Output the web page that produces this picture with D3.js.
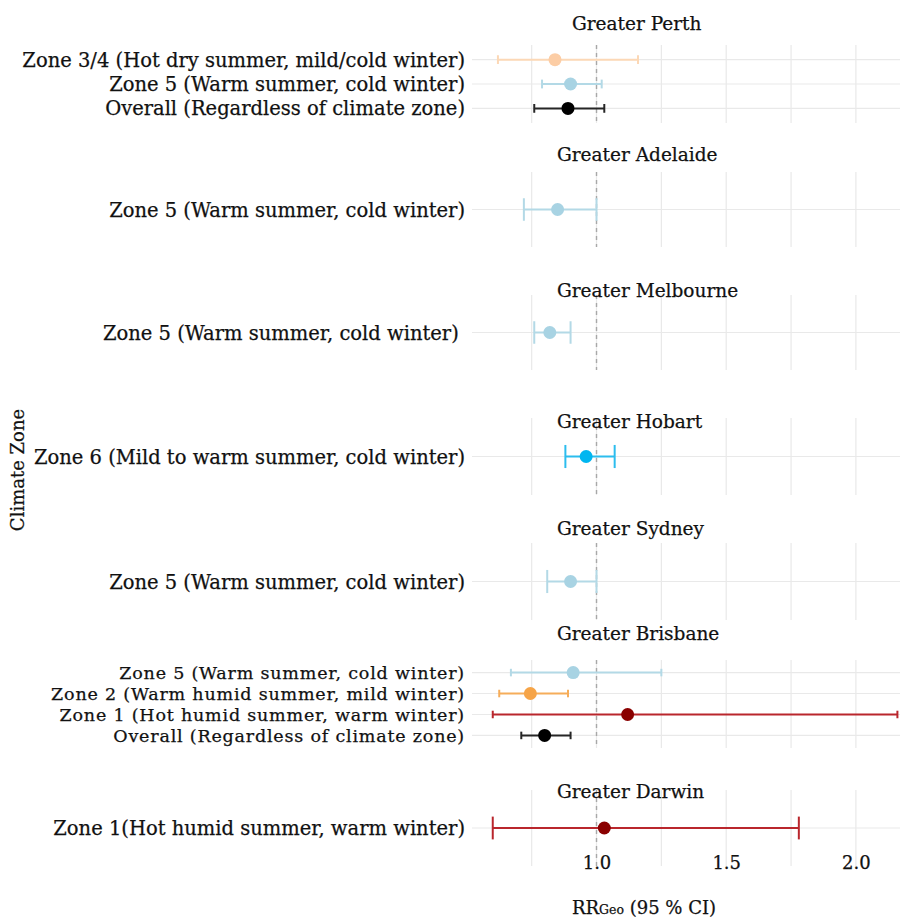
<!DOCTYPE html>
<html>
<head>
<meta charset="utf-8">
<script src="https://cdn.jsdelivr.net/npm/d3@7"></script>
<style>
  html, body { margin: 0; padding: 0; background: #ffffff; }
  svg { display: block; }
  text { font-family: "DejaVu Serif", "Liberation Serif", serif; fill: #111111;
         stroke: #111111; stroke-width: 0.25px; }
</style>
</head>
<body>
<svg id="chart" width="901" height="921"></svg>
<script>
// Cities shown as stacked panels, top to bottom
const cities = ["Greater Perth", "Greater Adelaide", "Greater Melbourne", "Greater Hobart",
                "Greater Sydney", "Greater Brisbane", "Greater Darwin"];

// One entry per estimate
const rowCity = ["Greater Perth", "Greater Perth", "Greater Perth",
                 "Greater Adelaide", "Greater Melbourne", "Greater Hobart", "Greater Sydney",
                 "Greater Brisbane", "Greater Brisbane", "Greater Brisbane", "Greater Brisbane",
                 "Greater Darwin"];
const rowLabel = ["Zone 3/4 (Hot dry summer, mild/cold winter)",
                  "Zone 5 (Warm summer, cold winter)",
                  "Overall (Regardless of climate zone)",
                  "Zone 5 (Warm summer, cold winter)",
                  "Zone 5 (Warm summer, cold winter) ",
                  "Zone 6 (Mild to warm summer, cold winter)",
                  "Zone 5 (Warm summer, cold winter)",
                  "Zone 5 (Warm summer, cold winter)",
                  "Zone 2 (Warm humid summer, mild winter)",
                  "Zone 1 (Hot humid summer, warm winter)",
                  "Overall (Regardless of climate zone)",
                  "Zone 1(Hot humid summer, warm winter)"];
const rowZone = ["Zone 3/4", "Zone 5", "Overall", "Zone 5", "Zone 5", "Zone 6", "Zone 5",
                 "Zone 5", "Zone 2", "Zone 1", "Overall", "Zone 1"];
const rrGeo   = [0.84, 0.90, 0.89, 0.85, 0.82, 0.96, 0.90, 0.91, 0.745, 1.12, 0.80, 1.03];
const ciLower = [0.62, 0.79, 0.76, 0.72, 0.76, 0.88, 0.81, 0.67, 0.625, 0.60, 0.71, 0.60];
const ciUpper = [1.16, 1.02, 1.03, 1.00, 0.90, 1.07, 1.00, 1.25, 0.89, 2.16, 0.90, 1.78];

// Axis ticks
const majorTicks = [1.0, 1.5, 2.0];
const minorTicks = [0.75, 1.25, 1.75];
const xTitle = "RR";
const xTitleSub = "Geo";
const xTitleRest = " (95 % CI)";
const yTitle = "Climate Zone";

// Colours per climate zone (point, interval line)
const zoneColors = {
  "Zone 3/4": ["#fccda5", "#fcd8b6"],
  "Zone 5":   ["#a8d3e3", "#b3d9e6"],
  "Overall":  ["#000000", "#262626"],
  "Zone 6":   ["#00b6f0", "#2cbdee"],
  "Zone 2":   ["#f6a447", "#f6ad5a"],
  "Zone 1":   ["#8a0000", "#b9262c"]
};

// Panel geometry: vertical extent of each panel, title placement and row-label type
const panelLayout = [
  { top: 45,  bottom: 123, titleY: 30,  titleX: 572, labelSize: 19.5, spacing: 0 },
  { top: 172, bottom: 247, titleY: 161, titleX: 557, labelSize: 19.5, spacing: 0 },
  { top: 295, bottom: 370, titleY: 297, titleX: 557, labelSize: 19.5, spacing: 0 },
  { top: 418, bottom: 495, titleY: 428, titleX: 557, labelSize: 19.5, spacing: 0 },
  { top: 543, bottom: 620, titleY: 535, titleX: 557, labelSize: 19.5, spacing: 0 },
  { top: 660, bottom: 748, titleY: 640, titleX: 557, labelSize: 17.5, spacing: 0.8 },
  { top: 790, bottom: 866, titleY: 798, titleX: 557, labelSize: 19.5, spacing: 0 }
];

const titleSize = 18.5, tickSize = 18, axisTitleSize = 18;

const svg = d3.select("#chart");
const panelLeft = 472, panelRight = 900;

const x = d3.scaleLinear().domain([0.52, 2.17]).range([panelLeft, panelRight]);

const rows = rowCity.map((c, i) => ({
  city: c, label: rowLabel[i], zone: rowZone[i],
  rr: rrGeo[i], lo: ciLower[i], hi: ciUpper[i]
}));

const gridColor = "#e9e9e9";

cities.forEach((city, idx) => {
  const lay = panelLayout[idx];
  const data = rows.filter(r => r.city === city);
  const y = d3.scalePoint()
    .domain(data.map(d => d.label))
    .range([lay.top, lay.bottom])
    .padding(0.6);
  const step = data.length > 1 ? y.step() : (lay.bottom - lay.top) / 1.2;
  const cap = step * 0.36;

  const g = svg.append("g").attr("class", "panel");

  // vertical grid (minor + major)
  g.selectAll("line.vgrid")
    .data(minorTicks.concat(majorTicks))
    .join("line")
    .attr("class", "vgrid")
    .attr("x1", d => x(d)).attr("x2", d => x(d))
    .attr("y1", lay.top).attr("y2", lay.bottom)
    .attr("stroke", gridColor).attr("stroke-width", 1.2);

  // horizontal grid at each row
  g.selectAll("line.hgrid")
    .data(data)
    .join("line")
    .attr("class", "hgrid")
    .attr("x1", panelLeft).attr("x2", panelRight)
    .attr("y1", d => y(d.label)).attr("y2", d => y(d.label))
    .attr("stroke", gridColor).attr("stroke-width", 1.2);

  // reference line at RR = 1
  g.append("line")
    .attr("x1", x(1)).attr("x2", x(1))
    .attr("y1", lay.top).attr("y2", lay.bottom)
    .attr("stroke", "#a8a8a8").attr("stroke-width", 1.4)
    .attr("stroke-dasharray", "4,4");

  // panel title
  g.append("text")
    .attr("x", lay.titleX).attr("y", lay.titleY)
    .attr("font-size", titleSize)
    .text(city);

  // row labels
  g.selectAll("text.ylab")
    .data(data)
    .join("text")
    .attr("class", "ylab")
    .attr("x", 465)
    .attr("y", d => y(d.label))
    .attr("dy", "0.36em")
    .attr("text-anchor", "end")
    .attr("font-size", lay.labelSize)
    .attr("letter-spacing", lay.spacing)
    .style("white-space", "pre")
    .text(d => d.label);

  // confidence intervals and point estimates
  const marks = g.selectAll("g.ci").data(data).join("g").attr("class", "ci");
  marks.append("line")
    .attr("x1", d => x(d.lo)).attr("x2", d => x(d.hi))
    .attr("y1", d => y(d.label)).attr("y2", d => y(d.label))
    .attr("stroke", d => zoneColors[d.zone][1]).attr("stroke-width", 2);
  marks.append("line")
    .attr("x1", d => x(d.lo)).attr("x2", d => x(d.lo))
    .attr("y1", d => y(d.label) - cap / 2).attr("y2", d => y(d.label) + cap / 2)
    .attr("stroke", d => zoneColors[d.zone][1]).attr("stroke-width", 2);
  marks.append("line")
    .attr("x1", d => x(d.hi)).attr("x2", d => x(d.hi))
    .attr("y1", d => y(d.label) - cap / 2).attr("y2", d => y(d.label) + cap / 2)
    .attr("stroke", d => zoneColors[d.zone][1]).attr("stroke-width", 2);
  marks.append("circle")
    .attr("cx", d => x(d.rr)).attr("cy", d => y(d.label))
    .attr("r", 6.5)
    .attr("fill", d => zoneColors[d.zone][0]);
});

// x axis tick labels
const xAxis = d3.axisBottom(x)
  .tickValues(majorTicks)
  .tickFormat(d3.format(".1f"))
  .tickSize(0)
  .tickPadding(0);
const ax = svg.append("g").attr("transform", "translate(0,856)").call(xAxis);
ax.select(".domain").remove();
ax.selectAll("text")
  .attr("font-size", tickSize)
  .attr("font-family", "DejaVu Serif, serif")
  .attr("fill", "#222222")
  .attr("stroke", "#222222");

// x axis title with subscript
const xt = svg.append("text")
  .attr("x", 644).attr("y", 914)
  .attr("text-anchor", "middle")
  .attr("font-size", axisTitleSize);
xt.append("tspan").text(xTitle);
xt.append("tspan").attr("font-size", 12.5).text(xTitleSub);
xt.append("tspan").text(xTitleRest);

// y axis title
svg.append("text")
  .attr("transform", "translate(24,470) rotate(-90)")
  .attr("text-anchor", "middle")
  .attr("font-size", axisTitleSize)
  .text(yTitle);
</script>
</body>
</html>
